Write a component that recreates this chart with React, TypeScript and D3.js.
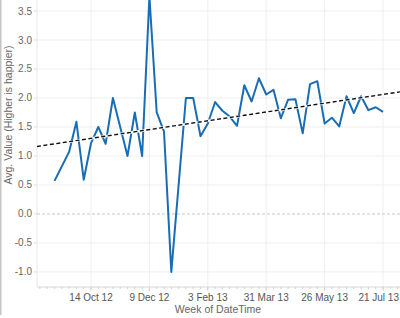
import React from "react";
import * as d3 from "d3";

const weeks: string[] = [
  "2012-09-09", "2012-09-16", "2012-09-23", "2012-09-30", "2012-10-07", "2012-10-14",
  "2012-10-21", "2012-10-28", "2012-11-04", "2012-11-11", "2012-11-18", "2012-11-25",
  "2012-12-02", "2012-12-09", "2012-12-16", "2012-12-23", "2012-12-30",
  "2013-01-13", "2013-01-20", "2013-01-27", "2013-02-03", "2013-02-10", "2013-02-17",
  "2013-02-24", "2013-03-03", "2013-03-10", "2013-03-17", "2013-03-24", "2013-03-31",
  "2013-04-07", "2013-04-14", "2013-04-21", "2013-04-28", "2013-05-05", "2013-05-12",
  "2013-05-19", "2013-05-26", "2013-06-02", "2013-06-09", "2013-06-16", "2013-06-23",
  "2013-06-30", "2013-07-07", "2013-07-14", "2013-07-21",
];
const avgValues: number[] = [
  0.57, 0.82, 1.07, 1.59, 0.59, 1.22,
  1.5, 1.21, 2.0, 1.5, 1.0, 1.75,
  1.0, 3.75, 1.75, 1.42, -1.0,
  2.0, 2.0, 1.34, 1.56, 1.93, 1.78,
  1.68, 1.52, 2.22, 1.94, 2.34, 2.06,
  2.14, 1.65, 1.97, 1.98, 1.39, 2.24,
  2.29, 1.56, 1.66, 1.51, 2.03, 1.74,
  2.03, 1.79, 1.84, 1.76,
];
const xTickDates: string[] = ["2012-10-14", "2012-12-09", "2013-02-03", "2013-03-31", "2013-05-26", "2013-07-21"];
const yTicks: number[] = [-1.0, -0.5, 0.0, 0.5, 1.0, 1.5, 2.0, 2.5, 3.0, 3.5];
const xDomain: string[] = ["2012-08-23T05:00:00Z", "2013-08-06T07:00:00Z"];
const yDomain: number[] = [-1.26, 3.69];
const xTitle = "Week of DateTime";
const yTitle = "Avg. Value (Higher is happier)";

const W = 400, H = 318;
const L = 37, R = 400, T = 0, B = 287;
const FONT = "'Liberation Sans', Arial, sans-serif";

export default function App() {
  const parse = (s: string) => new Date(s.length > 10 ? s : s + "T00:00:00Z");
  const x = d3.scaleUtc().domain(xDomain.map(parse)).range([L, R]);
  const y = d3.scaleLinear().domain(yDomain).range([B, T]);
  const data = weeks.map((w, i) => ({ d: parse(w), v: avgValues[i] }));
  const line = d3.line<{ d: Date; v: number }>().x((p) => x(p.d)).y((p) => y(p.v));

  // linear regression trend line across the axis range
  const xs = data.map((p) => +p.d);
  const ys = data.map((p) => p.v);
  const mx = d3.mean(xs)!, my = d3.mean(ys)!;
  let num = 0, den = 0;
  xs.forEach((xi, i) => { num += (xi - mx) * (ys[i] - my); den += (xi - mx) * (xi - mx); });
  const slope = num / den;
  const trend = (t: number) => my + slope * (t - mx);
  const [d0, d1] = x.domain();

  const minor = d3.utcWeek.range(x.domain()[0], x.domain()[1]);
  const fmt = d3.utcFormat("%-d %b %y");

  return (
    <svg width={W} height={H} style={{ position: "absolute", left: 0, top: 0, background: "#fff" }}>
      <defs>
        <clipPath id="plot"><rect x={L} y={T} width={R - L} height={B - T} /></clipPath>
      </defs>
      <rect x={0} y={0} width={1.5} height={315} fill="#c4c4c4" />
      {yTicks.map((t) => (
        <g key={t}>
          {t !== 0 && <line x1={L} x2={R} y1={y(t)} y2={y(t)} stroke="#efefef" strokeWidth={1} />}
          <line x1={L - 3} x2={L} y1={y(t)} y2={y(t)} stroke="#dcdcdc" />
          <text x={L - 5} y={y(t)} dy="0.35em" textAnchor="end" fontSize={10} fill="#666" fontFamily={FONT}>
            {t.toFixed(1)}
          </text>
        </g>
      ))}
      {xTickDates.map((s) => {
        const d = parse(s);
        const px = x(d);
        const nearEdge = px + 20 > W - 1;
        return (
          <g key={s}>
            <line x1={px} x2={px} y1={T} y2={B} stroke="#efefef" />
            <line x1={px} x2={px} y1={B} y2={B + 4} stroke="#cfcfcf" />
            <text x={nearEdge ? W - 1 : px} y={B + 14} textAnchor={nearEdge ? "end" : "middle"} fontSize={10} fill="#555" fontFamily={FONT}>
              {fmt(d)}
            </text>
          </g>
        );
      })}
      <line x1={L} x2={L} y1={T} y2={B} stroke="#e8e8e8" />
      <line x1={L} x2={R} y1={y(0)} y2={y(0)} stroke="#c8c8c8" strokeDasharray="3,2" />
      <line x1={L} x2={R} y1={B} y2={B} stroke="#d8d8d8" />
      {minor.map((d) => (
        <line key={+d} x1={x(d)} x2={x(d)} y1={B} y2={B + 2} stroke="#d0d0d0" />
      ))}
      <g clipPath="url(#plot)">
        <path d={line(data) || ""} fill="none" stroke="#1a6db3" strokeWidth={2} strokeLinejoin="round" />
        <line x1={x(d0)} x2={x(d1)} y1={y(trend(+d0))} y2={y(trend(+d1))} stroke="#fff" strokeWidth={2.5} />
        <line x1={x(d0)} x2={x(d1)} y1={y(trend(+d0))} y2={y(trend(+d1))} stroke="#111" strokeWidth={1.4} strokeDasharray="4,2.5" />
      </g>
      <text x={218} y={313} textAnchor="middle" fontSize={10.5} fill="#666" fontFamily={FONT}>{xTitle}</text>
      <text transform="translate(12,115) rotate(-90)" textAnchor="middle" fontSize={10.5} fill="#666" fontFamily={FONT}>{yTitle}</text>
    </svg>
  );
}
